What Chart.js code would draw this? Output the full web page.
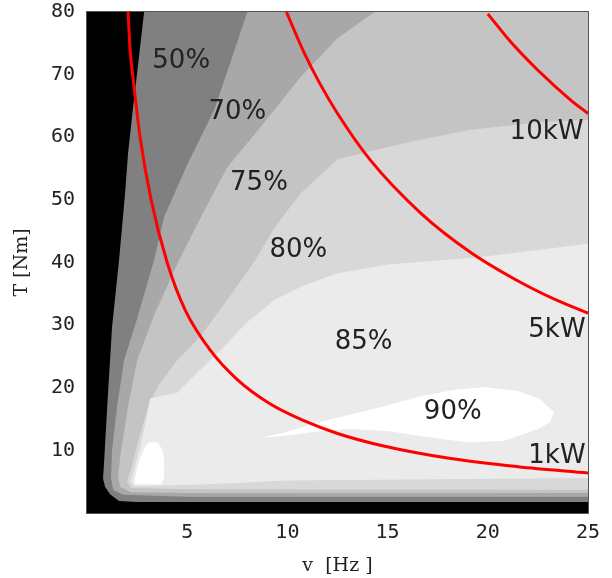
<!DOCTYPE html>
<html>
<head>
<meta charset="utf-8">
<style>
  html, body { margin: 0; padding: 0; background: #fff; }
  #wrap { width: 612px; height: 578px; }
</style>
<script src="https://cdn.jsdelivr.net/npm/chart.js@4/dist/chart.umd.min.js"></script>
</head>
<body>
<div id="wrap"><canvas id="map" width="612" height="578"></canvas></div>
<script>
// ---- data (v [Hz], T [Nm]) ----
const vTicks = [5, 10, 15, 20, 25];
const tTicks = [10, 20, 30, 40, 50, 60, 70, 80];

// whole operating window (below 50% shows as black)
const effBase = [[0, 0], [0, 80], [25, 80], [25, 0]];
// region boundaries, each polygon = area at or above that efficiency
const eff50 = [[2.85, 80], [2.55, 71.6], [2.3, 64.8], [2.05, 57.5], [1.9, 51], [1.6, 40.4], [1.25, 29.7], [1.0, 16.5],
  [0.85, 8], [0.8, 5.5], [0.9, 4.2], [1.15, 3.0], [1.6, 1.9], [2.5, 1.75], [25, 1.75], [25, 80]];
const eff70 = [[8, 80], [7.15, 71.9], [6.35, 64.4], [5, 55.6], [3.85, 47.3], [3.35, 40.4], [2.5, 31], [1.85, 24.4],
  [1.5, 17], [1.25, 10], [1.2, 5.5], [1.3, 3.7], [1.8, 2.9], [5, 2.6], [25, 2.6], [25, 80]];
const eff75 = [[14.35, 80], [12.5, 75.8], [10.65, 69.6], [8.5, 61], [7, 55.2], [5.8, 48], [4.6, 40.4], [3.4, 32],
  [2.5, 24.4], [2.05, 17], [1.7, 10], [1.55, 6], [1.65, 4.2], [2.2, 3.3], [5, 3.2], [25, 3.2], [25, 80]];
const eff80 = [[25, 62.8], [22.5, 62.4], [19.15, 61.2], [15.85, 59.1], [12.5, 56.5], [10.65, 51], [9.35, 45.5],
  [8.4, 40.4], [7, 34], [5.6, 28], [4.5, 24.4], [3.6, 20.5], [3.1, 17.5], [2.6, 12], [2.2, 7], [2.0, 5],
  [2.2, 4.0], [5, 3.8], [25, 3.7]];
const eff85 = [[25, 43], [22, 41.8], [19.5, 40.8], [17, 40.2], [15, 39.7], [12.5, 38.3], [10.8, 36.3], [9.35, 34],
  [8, 30.5], [7, 27.1], [5.5, 22.4], [4.5, 19.2], [3.7, 18.7], [3.15, 18.3], [2.9, 14], [2.65, 10.5], [2.4, 7.5],
  [2.2, 5], [2.35, 4.3], [3, 4.3], [6, 4.6], [10, 5.2], [25, 5.6]];
const eff90Low = [[2.35, 4.6], [2.45, 6.5], [2.65, 8.8], [2.9, 10.6], [3.1, 11.3], [3.5, 11.3], [3.75, 10.2],
  [3.85, 8.5], [3.85, 5.5], [3.7, 4.6]];
const eff90Mid = [[8.65, 12.0], [9.8, 12.8], [11.5, 14.4], [13, 15.6], [14.8, 17.0], [16.6, 18.6], [18.2, 19.6],
  [19.8, 20.1], [21.5, 19.5], [22.6, 18.2], [23.3, 16.1], [23.1, 14.5], [22.5, 13.4], [20.8, 11.5], [19, 11.3],
  [17.5, 11.9], [15, 13.1], [13.1, 13.4], [11.5, 13.0], [9.8, 12.3]];

// constant output power lines
const power1kW = [[2.05, 80], [2.15, 74], [2.3, 69.4], [2.65, 60], [3.2, 50], [4.0, 40], [4.9, 32.4], [6.15, 26],
  [7.5, 21.3], [9.15, 17.4], [10.85, 14.7], [12.5, 12.7], [14.8, 10.7], [18.15, 8.7], [21.5, 7.4], [25, 6.4]];
const power5kW = [[9.95, 80], [10.85, 73.4], [11.65, 68.4], [12.5, 63.8], [14.15, 56.3], [16.65, 47.9], [19.15, 41.6],
  [21.65, 36.8], [23.35, 34.1], [25, 31.9]];
const power10kW = [[20, 79.7], [21.15, 75.2], [22.5, 70.7], [24.15, 65.9], [25, 63.8]];

// in-plot labels
const labelText = ["50%", "70%", "75%", "80%", "85%", "90%", "10kW", "5kW", "1kW"];
const labelV = [4.7, 7.5, 8.58, 10.55, 13.8, 18.25, 22.93, 23.45, 23.45];
const labelT = [72.1, 64.0, 52.7, 42.0, 27.3, 16.1, 60.8, 29.2, 9.1];

// ---- styles ----
const shade = { base: "#000000", e50: "#808080", e70: "#a8a8a8", e75: "#c4c4c4", e80: "#d8d8d8", e85: "#ebebeb", e90: "#ffffff" };
const red = "#ff0000";
const inkColor = "#222222";

const toXY = pts => pts.map(([x, y]) => ({ x, y }));
const band = (pts, color, order) => ({
  data: toXY(pts), fill: "shape", backgroundColor: color, borderColor: "transparent",
  borderWidth: 0, pointRadius: 0, tension: 0, order
});
const powerLine = (pts) => ({
  data: toXY(pts), fill: false, borderColor: red, borderWidth: 3, pointRadius: 0,
  cubicInterpolationMode: "monotone", order: 1
});

// frame + text labels, placed through the scales
const overlay = {
  id: "overlay",
  afterDatasetsDraw(chart) {
    const { ctx, chartArea: a, scales: { x, y } } = chart;
    ctx.save();
    ctx.strokeStyle = "#555";
    ctx.lineWidth = 1;
    ctx.strokeRect(a.left - 0.5, a.top - 0.5, a.right - a.left + 1, a.bottom - a.top + 1);
    ctx.font = '26px "DejaVu Sans"';
    ctx.fillStyle = inkColor;
    ctx.textAlign = "center";
    ctx.textBaseline = "middle";
    labelText.forEach((t, i) => ctx.fillText(t, x.getPixelForValue(labelV[i]), y.getPixelForValue(labelT[i])));
    ctx.restore();
  }
};

new Chart(document.getElementById("map"), {
  type: "line",
  data: {
    datasets: [
      powerLine(power1kW), powerLine(power5kW), powerLine(power10kW),
      band(eff90Mid, shade.e90, 3), band(eff90Low, shade.e90, 3),
      band(eff85, shade.e85, 4), band(eff80, shade.e80, 5), band(eff75, shade.e75, 6),
      band(eff70, shade.e70, 7), band(eff50, shade.e50, 8), band(effBase, shade.base, 9)
    ]
  },
  options: {
    responsive: false,
    animation: false,
    events: [],
    layout: { padding: { left: 0, top: 12, right: 24, bottom: 0 } },
    plugins: { legend: { display: false }, tooltip: { enabled: false } },
    scales: {
      x: {
        type: "linear", min: 0, max: 25,
        afterBuildTicks: s => { s.ticks = vTicks.map(v => ({ value: v })); },
        afterFit: s => { s.height = 65; s.paddingLeft = 0; s.paddingRight = 0; },
        grid: { display: false, drawTicks: false },
        border: { display: false },
        ticks: { padding: 8, autoSkip: false, maxRotation: 0, color: inkColor, font: { family: "DejaVu Sans Mono", size: 20 } },
        title: { display: true, text: "v  [Hz ]", color: inkColor, font: { family: "DejaVu Serif", size: 19 }, padding: { top: 0, bottom: 1 } }
      },
      y: {
        type: "linear", min: 0, max: 80,
        afterBuildTicks: s => { s.ticks = tTicks.map(v => ({ value: v })); },
        afterFit: s => { s.width = 87; s.paddingTop = 0; s.paddingBottom = 0; },
        grid: { display: false, drawTicks: false },
        border: { display: false },
        ticks: { padding: 12, autoSkip: false, color: inkColor, font: { family: "DejaVu Sans Mono", size: 20 } },
        title: { display: true, text: "T [Nm]", color: inkColor, font: { family: "DejaVu Serif", size: 19 }, padding: { top: 11, bottom: 0 } }
      }
    }
  },
  plugins: [overlay]
});
</script>
</body>
</html>
